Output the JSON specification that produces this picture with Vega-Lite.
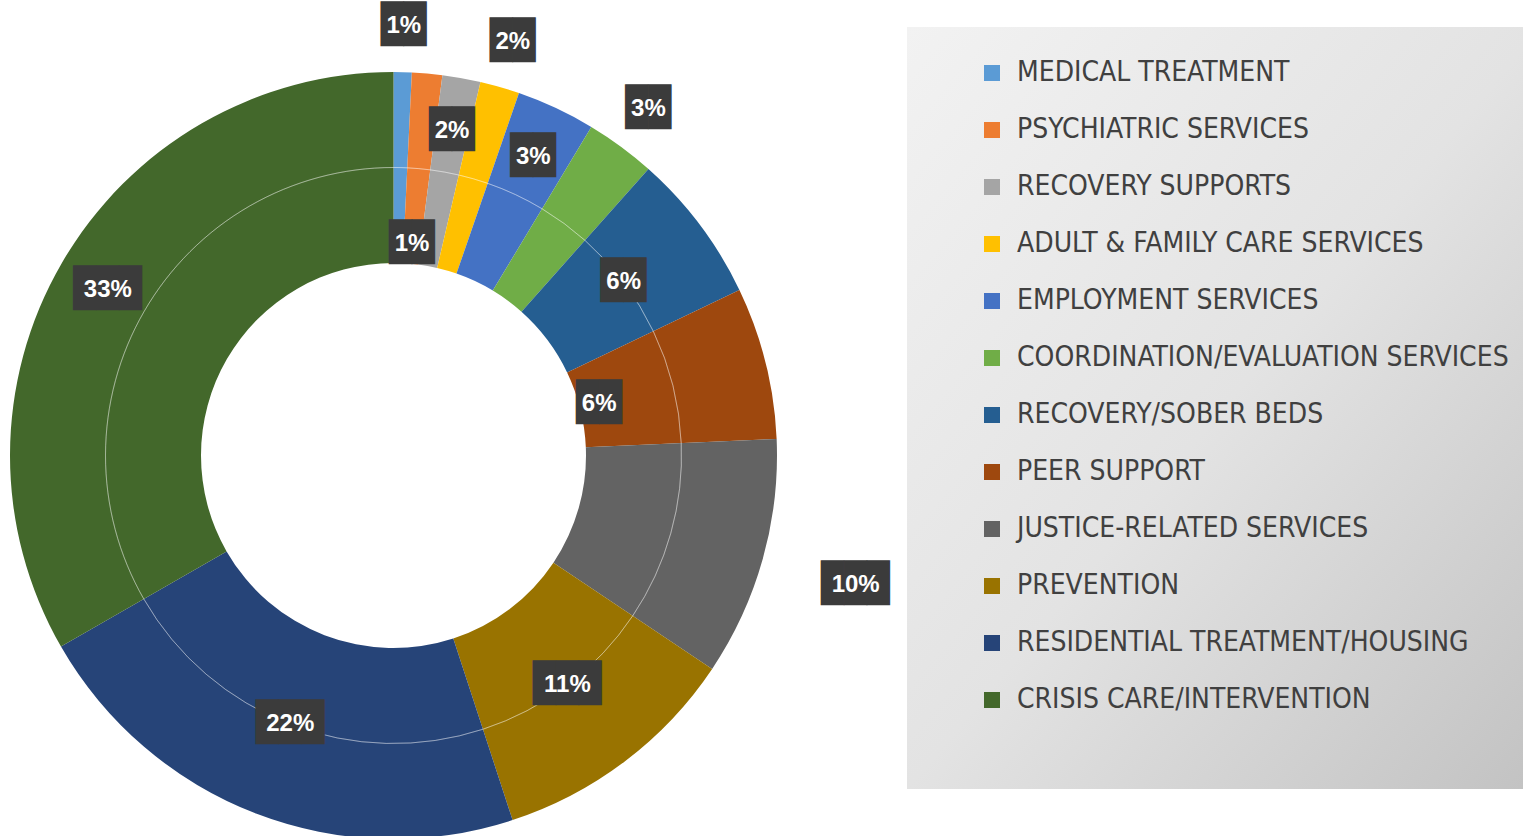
{
  "$schema": "https://vega.github.io/schema/vega-lite/v6.json",
  "width": 787,
  "height": 857,
  "autosize": {"type": "none"},
  "padding": {"left": 0, "top": 27, "right": 736, "bottom": 0},
  "background": "white",
  "config": {"view": {"stroke": null}},
  "data": {"values": [
    {"category": "MEDICAL TREATMENT", "rank": 1, "share": 0.0076},
    {"category": "PSYCHIATRIC SERVICES", "rank": 2, "share": 0.0127},
    {"category": "RECOVERY SUPPORTS", "rank": 3, "share": 0.016},
    {"category": "ADULT & FAMILY CARE SERVICES", "rank": 4, "share": 0.0166},
    {"category": "EMPLOYMENT SERVICES", "rank": 5, "share": 0.0331},
    {"category": "COORDINATION/EVALUATION SERVICES", "rank": 6, "share": 0.0294},
    {"category": "RECOVERY/SOBER BEDS", "rank": 7, "share": 0.063},
    {"category": "PEER SUPPORT", "rank": 8, "share": 0.064},
    {"category": "JUSTICE-RELATED SERVICES", "rank": 9, "share": 0.1005},
    {"category": "PREVENTION", "rank": 10, "share": 0.1055},
    {"category": "RESIDENTIAL TREATMENT/HOUSING", "rank": 11, "share": 0.2166},
    {"category": "CRISIS CARE/INTERVENTION", "rank": 12, "share": 0.332}
  ]},
  "transform": [
    {"stack": "share", "groupby": [], "sort": [{"field": "rank", "order": "ascending"}], "as": ["s0", "s1"]},
    {"calculate": "(datum.s0 + datum.s1) / 2", "as": "mid"}
  ],
  "layer": [
    {
      "mark": {"type": "arc", "radius": 383.5, "radius2": 192.5},
      "encoding": {
        "theta": {"field": "s0", "type": "quantitative", "stack": false, "scale": {"domain": [0, 0.997]}},
        "theta2": {"field": "s1"},
        "color": {
          "field": "category",
          "type": "nominal",
          "scale": {
            "domain": ["MEDICAL TREATMENT", "PSYCHIATRIC SERVICES", "RECOVERY SUPPORTS", "ADULT & FAMILY CARE SERVICES", "EMPLOYMENT SERVICES", "COORDINATION/EVALUATION SERVICES", "RECOVERY/SOBER BEDS", "PEER SUPPORT", "JUSTICE-RELATED SERVICES", "PREVENTION", "RESIDENTIAL TREATMENT/HOUSING", "CRISIS CARE/INTERVENTION"],
            "range": ["#5B9BD5", "#ED7D31", "#A5A5A5", "#FFC000", "#4472C4", "#70AD47", "#255E91", "#9E480E", "#636363", "#997300", "#264478", "#43682B"]
          },
          "legend": {
            "title": " ",
            "titleOrient": "bottom",
            "titleFontSize": 10,
            "titlePadding": 33,
            "orient": "none",
            "legendX": 907,
            "legendY": 0,
            "padding": 32,
            "symbolType": "square",
            "symbolSize": 256,
            "symbolStrokeWidth": 0,
            "symbolOffset": 39,
            "labelOffset": 11,
            "labelFont": "DejaVu Sans Condensed, Liberation Sans, sans-serif",
            "labelFontSize": 28,
            "labelColor": "#404040",
            "labelLimit": 900,
            "rowPadding": 29,
            "fillColor": "#e4e4e4",
            "strokeColor": null,
            "encode": {
              "legend": {
                "update": {
                  "fill": {"value": {"gradient": "linear", "x1": 0, "y1": 0, "x2": 1, "y2": 1, "stops": [{"offset": 0, "color": "#f2f2f2"}, {"offset": 0.5, "color": "#e3e3e3"}, {"offset": 1, "color": "#c2c2c2"}]}}
                }
              }
            }
          }
        }
      }
    },
    {
      "mark": {"type": "arc", "radius": 288, "radius2": 288, "fillOpacity": 0, "stroke": "#ffffff", "strokeOpacity": 0.3, "strokeWidth": 1},
      "encoding": {
        "theta": {"field": "s0", "type": "quantitative", "stack": false},
        "theta2": {"field": "s1"}
      }
    },
    {
      "transform": [{"filter": {"field": "category", "oneOf": ["MEDICAL TREATMENT", "ADULT & FAMILY CARE SERVICES", "COORDINATION/EVALUATION SERVICES"]}}],
      "encoding": {"theta": {"field": "mid", "type": "quantitative", "stack": false}},
      "layer": [
        {"mark": {"type": "text", "radius": 430, "font": "DejaVu Sans Mono", "fontSize": 38, "baseline": "middle", "align": "center", "color": "#3b3b3b"},
         "encoding": {"text": {"condition": {"test": "datum.share >= 0.095", "value": "███"}, "value": "██"}}},
        {"mark": {"type": "text", "radius": 430, "font": "Liberation Sans", "fontSize": 24, "fontWeight": "bold", "baseline": "middle", "align": "center", "color": "#ffffff"},
         "encoding": {"text": {"field": "share", "type": "quantitative", "format": ".0%"}}}
      ]
    },
    {
      "transform": [{"filter": {"field": "category", "oneOf": ["RECOVERY SUPPORTS", "EMPLOYMENT SERVICES", "CRISIS CARE/INTERVENTION"]}}],
      "encoding": {"theta": {"field": "mid", "type": "quantitative", "stack": false}},
      "layer": [
        {"mark": {"type": "text", "radius": 330, "font": "DejaVu Sans Mono", "fontSize": 38, "baseline": "middle", "align": "center", "color": "#3b3b3b"},
         "encoding": {"text": {"condition": {"test": "datum.share >= 0.095", "value": "███"}, "value": "██"}}},
        {"mark": {"type": "text", "radius": 330, "font": "Liberation Sans", "fontSize": 24, "fontWeight": "bold", "baseline": "middle", "align": "center", "color": "#ffffff"},
         "encoding": {"text": {"field": "share", "type": "quantitative", "format": ".0%"}}}
      ]
    },
    {
      "transform": [{"filter": {"field": "category", "oneOf": ["PSYCHIATRIC SERVICES", "PEER SUPPORT"]}}],
      "encoding": {"theta": {"field": "mid", "type": "quantitative", "stack": false}},
      "layer": [
        {"mark": {"type": "text", "radius": 212, "font": "DejaVu Sans Mono", "fontSize": 38, "baseline": "middle", "align": "center", "color": "#3b3b3b"},
         "encoding": {"text": {"condition": {"test": "datum.share >= 0.095", "value": "███"}, "value": "██"}}},
        {"mark": {"type": "text", "radius": 212, "font": "Liberation Sans", "fontSize": 24, "fontWeight": "bold", "baseline": "middle", "align": "center", "color": "#ffffff"},
         "encoding": {"text": {"field": "share", "type": "quantitative", "format": ".0%"}}}
      ]
    },
    {
      "transform": [{"filter": {"field": "category", "oneOf": ["RECOVERY/SOBER BEDS", "PREVENTION", "RESIDENTIAL TREATMENT/HOUSING"]}}],
      "encoding": {"theta": {"field": "mid", "type": "quantitative", "stack": false}},
      "layer": [
        {"mark": {"type": "text", "radius": 288, "font": "DejaVu Sans Mono", "fontSize": 38, "baseline": "middle", "align": "center", "color": "#3b3b3b"},
         "encoding": {"text": {"condition": {"test": "datum.share >= 0.095", "value": "███"}, "value": "██"}}},
        {"mark": {"type": "text", "radius": 288, "font": "Liberation Sans", "fontSize": 24, "fontWeight": "bold", "baseline": "middle", "align": "center", "color": "#ffffff"},
         "encoding": {"text": {"field": "share", "type": "quantitative", "format": ".0%"}}}
      ]
    },
    {
      "transform": [{"filter": {"field": "category", "oneOf": ["JUSTICE-RELATED SERVICES"]}}],
      "encoding": {"theta": {"field": "mid", "type": "quantitative", "stack": false}},
      "layer": [
        {"mark": {"type": "text", "radius": 480, "font": "DejaVu Sans Mono", "fontSize": 38, "baseline": "middle", "align": "center", "color": "#3b3b3b"},
         "encoding": {"text": {"condition": {"test": "datum.share >= 0.095", "value": "███"}, "value": "██"}}},
        {"mark": {"type": "text", "radius": 480, "font": "Liberation Sans", "fontSize": 24, "fontWeight": "bold", "baseline": "middle", "align": "center", "color": "#ffffff"},
         "encoding": {"text": {"field": "share", "type": "quantitative", "format": ".0%"}}}
      ]
    }
  ]
}
